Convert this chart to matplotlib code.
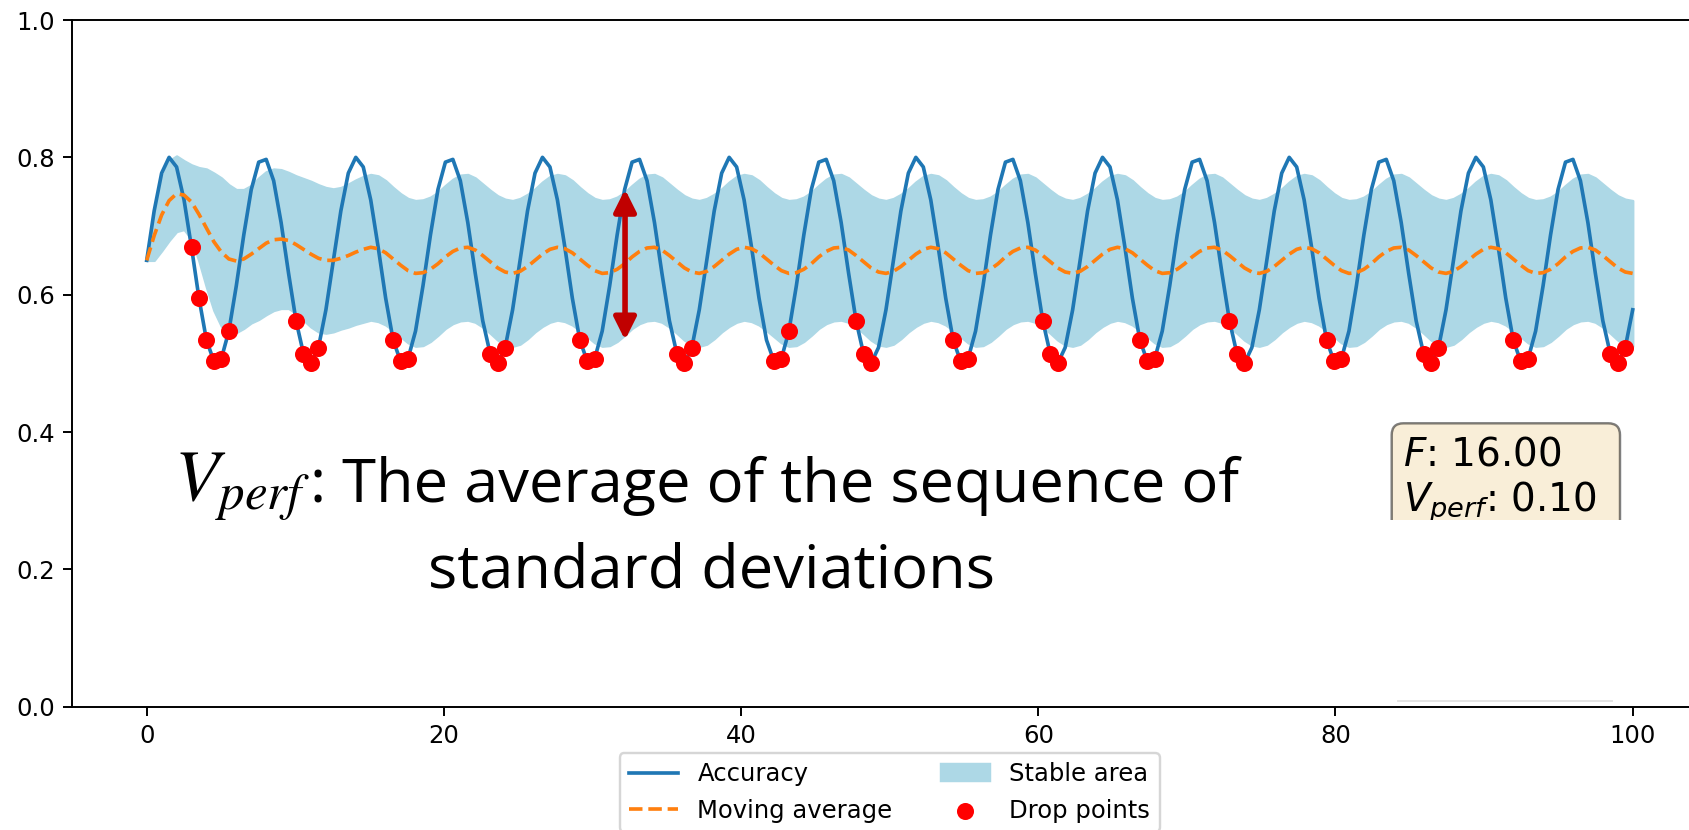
import numpy as np
import matplotlib.pyplot as plt
from matplotlib.patches import Rectangle, FancyBboxPatch
from matplotlib.lines import Line2D

# sample positions (200 evaluations between 0 and 100)
steps = np.linspace(0, 100, 200)

accuracy = [
    0.650, 0.722, 0.777, 0.800, 0.786, 0.738, 0.669, 0.595, 0.534, 0.503, 0.507, 0.547, 0.613, 0.687, 0.753, 0.793, 0.797, 0.766, 0.705, 0.631, 0.562, 0.514, 0.500, 0.523, 0.578,
    0.650, 0.722, 0.777, 0.800, 0.786, 0.738, 0.669, 0.595, 0.534, 0.503, 0.507, 0.547, 0.613, 0.687, 0.753, 0.793, 0.797, 0.766, 0.705, 0.631, 0.562, 0.514, 0.500, 0.523, 0.578,
    0.650, 0.722, 0.777, 0.800, 0.786, 0.738, 0.669, 0.595, 0.534, 0.503, 0.507, 0.547, 0.613, 0.687, 0.753, 0.793, 0.797, 0.766, 0.705, 0.631, 0.562, 0.514, 0.500, 0.523, 0.578,
    0.650, 0.722, 0.777, 0.800, 0.786, 0.738, 0.669, 0.595, 0.534, 0.503, 0.507, 0.547, 0.613, 0.687, 0.753, 0.793, 0.797, 0.766, 0.705, 0.631, 0.562, 0.514, 0.500, 0.523, 0.578,
    0.650, 0.722, 0.777, 0.800, 0.786, 0.738, 0.669, 0.595, 0.534, 0.503, 0.507, 0.547, 0.613, 0.687, 0.753, 0.793, 0.797, 0.766, 0.705, 0.631, 0.562, 0.514, 0.500, 0.523, 0.578,
    0.650, 0.722, 0.777, 0.800, 0.786, 0.738, 0.669, 0.595, 0.534, 0.503, 0.507, 0.547, 0.613, 0.687, 0.753, 0.793, 0.797, 0.766, 0.705, 0.631, 0.562, 0.514, 0.500, 0.523, 0.578,
    0.650, 0.722, 0.777, 0.800, 0.786, 0.738, 0.669, 0.595, 0.534, 0.503, 0.507, 0.547, 0.613, 0.687, 0.753, 0.793, 0.797, 0.766, 0.705, 0.631, 0.562, 0.514, 0.500, 0.523, 0.578,
    0.650, 0.722, 0.777, 0.800, 0.786, 0.738, 0.669, 0.595, 0.534, 0.503, 0.507, 0.547, 0.613, 0.687, 0.753, 0.793, 0.797, 0.766, 0.705, 0.631, 0.562, 0.514, 0.500, 0.523, 0.578,
]

moving_avg = [
    0.650, 0.686, 0.716, 0.737, 0.747, 0.745, 0.735, 0.717, 0.697, 0.677, 0.662, 0.652, 0.649, 0.652, 0.659, 0.667, 0.675, 0.680, 0.681, 0.679, 0.673, 0.666, 0.659, 0.653, 0.650,
    0.650, 0.653, 0.657, 0.662, 0.666, 0.669, 0.667, 0.661, 0.652, 0.643, 0.635, 0.631, 0.632, 0.637, 0.645, 0.655, 0.663, 0.668, 0.669, 0.665, 0.657, 0.648, 0.639, 0.633, 0.631,
    0.634, 0.641, 0.650, 0.659, 0.666, 0.669, 0.667, 0.661, 0.652, 0.643, 0.635, 0.631, 0.632, 0.637, 0.645, 0.655, 0.663, 0.668, 0.669, 0.665, 0.657, 0.648, 0.639, 0.633, 0.631,
    0.634, 0.641, 0.650, 0.659, 0.666, 0.669, 0.667, 0.661, 0.652, 0.643, 0.635, 0.631, 0.632, 0.637, 0.645, 0.655, 0.663, 0.668, 0.669, 0.665, 0.657, 0.648, 0.639, 0.633, 0.631,
    0.634, 0.641, 0.650, 0.659, 0.666, 0.669, 0.667, 0.661, 0.652, 0.643, 0.635, 0.631, 0.632, 0.637, 0.645, 0.655, 0.663, 0.668, 0.669, 0.665, 0.657, 0.648, 0.639, 0.633, 0.631,
    0.634, 0.641, 0.650, 0.659, 0.666, 0.669, 0.667, 0.661, 0.652, 0.643, 0.635, 0.631, 0.632, 0.637, 0.645, 0.655, 0.663, 0.668, 0.669, 0.665, 0.657, 0.648, 0.639, 0.633, 0.631,
    0.634, 0.641, 0.650, 0.659, 0.666, 0.669, 0.667, 0.661, 0.652, 0.643, 0.635, 0.631, 0.632, 0.637, 0.645, 0.655, 0.663, 0.668, 0.669, 0.665, 0.657, 0.648, 0.639, 0.633, 0.631,
    0.634, 0.641, 0.650, 0.659, 0.666, 0.669, 0.667, 0.661, 0.652, 0.643, 0.635, 0.631, 0.632, 0.637, 0.645, 0.655, 0.663, 0.668, 0.669, 0.665, 0.657, 0.648, 0.639, 0.633, 0.631,
]

# half width of the stable area around the moving average
spread = [
    0.000, 0.036, 0.052, 0.058, 0.055, 0.050, 0.054, 0.068, 0.086, 0.100, 0.108, 0.108, 0.104, 0.101, 0.100, 0.103, 0.104, 0.103, 0.101, 0.099, 0.100, 0.103, 0.106, 0.107, 0.106,
    0.104, 0.103, 0.104, 0.105, 0.106, 0.106, 0.106, 0.105, 0.104, 0.104, 0.105, 0.106, 0.106, 0.105, 0.104, 0.104, 0.105, 0.106, 0.106, 0.105, 0.104, 0.104, 0.105, 0.106, 0.106,
    0.106, 0.105, 0.104, 0.105, 0.106, 0.106, 0.106, 0.105, 0.104, 0.104, 0.105, 0.106, 0.106, 0.105, 0.104, 0.104, 0.105, 0.106, 0.106, 0.105, 0.104, 0.104, 0.105, 0.106, 0.106,
    0.106, 0.105, 0.104, 0.105, 0.106, 0.106, 0.106, 0.105, 0.104, 0.104, 0.105, 0.106, 0.106, 0.105, 0.104, 0.104, 0.105, 0.106, 0.106, 0.105, 0.104, 0.104, 0.105, 0.106, 0.106,
    0.106, 0.105, 0.104, 0.105, 0.106, 0.106, 0.106, 0.105, 0.104, 0.104, 0.105, 0.106, 0.106, 0.105, 0.104, 0.104, 0.105, 0.106, 0.106, 0.105, 0.104, 0.104, 0.105, 0.106, 0.106,
    0.106, 0.105, 0.104, 0.105, 0.106, 0.106, 0.106, 0.105, 0.104, 0.104, 0.105, 0.106, 0.106, 0.105, 0.104, 0.104, 0.105, 0.106, 0.106, 0.105, 0.104, 0.104, 0.105, 0.106, 0.106,
    0.106, 0.105, 0.104, 0.105, 0.106, 0.106, 0.106, 0.105, 0.104, 0.104, 0.105, 0.106, 0.106, 0.105, 0.104, 0.104, 0.105, 0.106, 0.106, 0.105, 0.104, 0.104, 0.105, 0.106, 0.106,
    0.106, 0.105, 0.104, 0.105, 0.106, 0.106, 0.106, 0.105, 0.104, 0.104, 0.105, 0.106, 0.106, 0.105, 0.104, 0.104, 0.105, 0.106, 0.106, 0.105, 0.104, 0.104, 0.105, 0.106, 0.106,
]

drop_x = [3.02, 3.52, 4.02, 4.52, 5.03, 5.53,
          10.05, 10.55, 11.06, 11.56,
          16.58, 17.09, 17.59,
          23.12, 23.62, 24.12,
          29.15, 29.65, 30.15,
          35.68, 36.18, 36.68,
          42.21, 42.71, 43.22,
          47.74, 48.24, 48.74,
          54.27, 54.77, 55.28,
          60.30, 60.80, 61.31,
          66.83, 67.34, 67.84,
          72.86, 73.37, 73.87,
          79.40, 79.90, 80.40,
          85.93, 86.43, 86.93,
          91.96, 92.46, 92.96,
          98.49, 98.99, 99.50]
drop_y = [0.669, 0.595, 0.534, 0.503, 0.507, 0.547,
          0.562, 0.514, 0.500, 0.523,
          0.534, 0.503, 0.507,
          0.514, 0.500, 0.523,
          0.534, 0.503, 0.507,
          0.514, 0.500, 0.523,
          0.503, 0.507, 0.547,
          0.562, 0.514, 0.500,
          0.534, 0.503, 0.507,
          0.562, 0.514, 0.500,
          0.534, 0.503, 0.507,
          0.562, 0.514, 0.500,
          0.534, 0.503, 0.507,
          0.514, 0.500, 0.523,
          0.534, 0.503, 0.507,
          0.514, 0.500, 0.523]

W, H, DPI = 1689, 830, 175

ma = np.array(moving_avg)
sd = np.array(spread)

fig = plt.figure(figsize=(W / DPI, H / DPI), dpi=DPI)
ax = fig.add_axes([72.4 / W, 1 - 706.7 / H, (1707.0 - 72.4) / W, (706.7 - 20.0) / H])

ax.plot(steps, accuracy, label="Accuracy")
ax.plot(steps, ma, "--", label="Moving average")
ax.fill_between(steps, ma - sd, ma + sd, color="lightblue", label="Stable area")
ax.scatter(drop_x, drop_y, color="red", label="Drop points", zorder=3)

ax.set_xlim(-5, 105)
ax.set_ylim(0, 1)

ax.legend(loc="upper center", bbox_to_anchor=(889.7 / W, 1 - 752.7 / H),
          bbox_transform=fig.transFigure, ncol=2, borderaxespad=0)

# red double arrow (slide annotation)
ax.annotate("", xy=(32.19, 0.7535), xytext=(32.19, 0.534),
            arrowprops=dict(arrowstyle="<|-|>", color="#C00000", lw=2.3,
                            mutation_scale=19, shrinkA=0, shrinkB=0), zorder=6)

# info box (frame drawn in pixels, lower part is hidden below)
box = FancyBboxPatch((1391.7, H - 560), 1620 - 1391.7, 560 - 423.3,
                     boxstyle="round,pad=0,rounding_size=11.7", transform=None,
                     facecolor="wheat", edgecolor="black", alpha=0.5, lw=1.0, zorder=8)
fig.patches.append(box)
fig.text(1403.4 / W, 1 - 435 / H, "$F$: 16.00\n$V_{perf}$: 0.10",
         fontsize=16, ha="left", va="top", zorder=9)

# white block hiding the lower part of the box
fig.patches.append(Rectangle((1385 / W, 1 - 700 / H), (1628 - 1385) / W, (700 - 520) / H,
                             transform=fig.transFigure, facecolor="white",
                             edgecolor="none", zorder=10))
fig.lines.append(Line2D([1398 / W, 1612 / W], [1 - 701 / H, 1 - 701 / H],
                        transform=fig.transFigure, color="#e4e4e4", lw=0.8, zorder=11))

# slide caption
fig.text(310 / W, 1 - 501.7 / H, "$V_{perf}$", fontsize=30, math_fontfamily="stix",
         ha="right", va="baseline", zorder=12)
fig.text(310 / W, 1 - 501.7 / H, ": The average of the sequence of",
         family="Open Sans", fontsize=25.3, ha="left", va="baseline", zorder=12)
fig.text(712 / W, 1 - 588 / H, "standard deviations",
         family="Open Sans", fontsize=25.3, ha="center", va="baseline", zorder=12)

fig.savefig("out.png", dpi=DPI)
